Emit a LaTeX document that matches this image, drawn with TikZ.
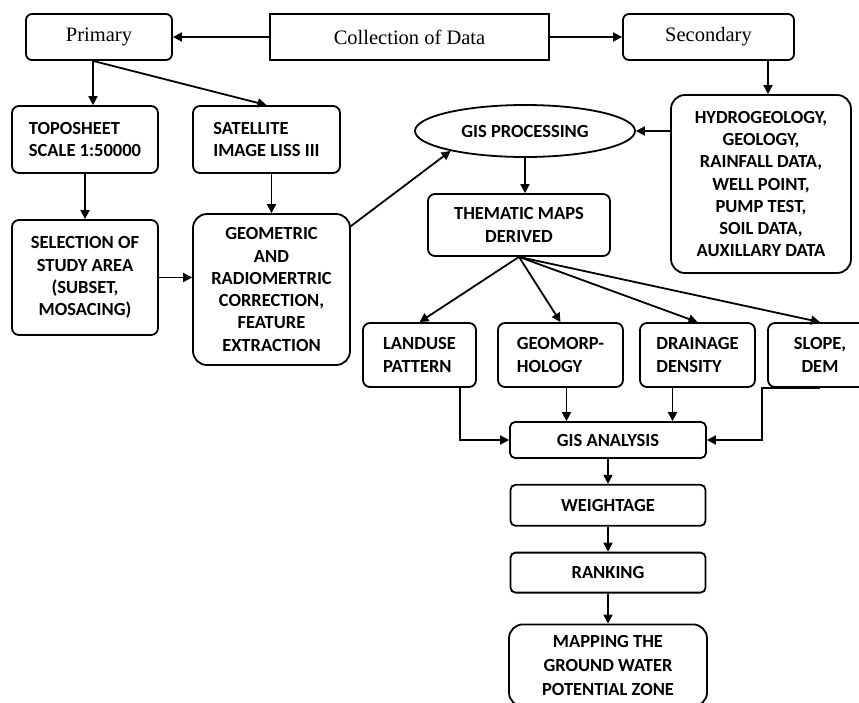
\documentclass[tikz,border=0pt]{standalone}
\usepackage{fontspec}
\setmainfont{Liberation Serif}
\newfontfamily\capsf{Carlito}
\usepackage{tikz}
\usetikzlibrary{arrows.meta, positioning, shapes.geometric}
\tikzset{
  ttl/.style  = {draw, line width=1.8pt, rounded corners=6pt, align=center,
                 font=\fontsize{20.5}{24}\selectfont, inner sep=4pt},
  rbox/.style = {draw, line width=1.8pt, rounded corners=7pt, align=center,
                 font=\capsf\bfseries\fontsize{18.5}{22.3}\selectfont, inner sep=4pt},
  bbox/.style = {rbox, rounded corners=14pt},
  oval/.style = {draw, line width=1.8pt, ellipse, align=center, inner sep=0pt,
                 font=\capsf\bfseries\fontsize{18.5}{22.3}\selectfont},
  fl/.style   = {-{Triangle[length=9pt,width=9pt]}, line width=1.8pt},
}
\begin{document}
\begin{tikzpicture}[x=1pt, y=-1pt, node distance=25pt]
  \useasboundingbox (0,0) rectangle (859,702);
  % top row
  \node[ttl, minimum width=146, minimum height=46] (prim) at (99,37) {Primary};
  \node[ttl, rounded corners=0pt, minimum width=279, minimum height=46] (coll) at (409.5,37) {Collection of Data};
  \node[ttl, minimum width=171, minimum height=46] (sec) at (708.5,37) {Secondary};
  % primary branch
  \node[rbox, align=left, minimum width=146, minimum height=67] (topo) at (85,139.5) {TOPOSHEET\\SCALE 1:50000};
  \node[rbox, align=left, minimum width=147, minimum height=67] (sat) at (266.5,139.5) {SATELLITE\\IMAGE LISS III};
  \node[rbox, minimum width=146, minimum height=115] (sel) at (85,277.5) {SELECTION OF\\STUDY AREA\\(SUBSET,\\MOSACING)};
  \node[bbox, minimum width=157, minimum height=151] (geo) at (271.5,289.5) {GEOMETRIC\\AND\\RADIOMERTRIC\\CORRECTION,\\FEATURE\\EXTRACTION};
  % processing
  \node[oval, minimum width=220, minimum height=52] (gisP) at (525,131) {GIS PROCESSING};
  \node[bbox, minimum width=180, minimum height=178] (hyd) at (761,184) {HYDROGEOLOGY,\\GEOLOGY,\\RAINFALL DATA,\\WELL POINT,\\PUMP TEST,\\SOIL DATA,\\AUXILLARY DATA};
  \node[rbox, minimum width=182, minimum height=62] (them) at (519,225) {THEMATIC MAPS\\DERIVED};
  % thematic layers
  \node[rbox, align=left, minimum width=113, minimum height=64] (land) at (419.5,355) {LANDUSE\\PATTERN};
  \node[rbox, align=left, minimum width=125, minimum height=64] (geom) at (560.5,355) {GEOMORP-\\HOLOGY};
  \node[rbox, align=left, minimum width=115, minimum height=64] (drain) at (697.5,355) {DRAINAGE\\DENSITY};
  \node[rbox, minimum width=104, minimum height=64] (slope) at (820,355) {SLOPE,\\DEM};
  % analysis column
  \node[rbox, rounded corners=5pt, minimum width=196, minimum height=36] (gisA) at (608,440) {GIS ANALYSIS};
  \node[rbox, rounded corners=5pt, minimum width=195, minimum height=41, below=of gisA] (weight) {WEIGHTAGE};
  \node[rbox, rounded corners=5pt, minimum width=195, minimum height=40, below=of weight] (rank) {RANKING};
  \node[bbox, font=\capsf\bfseries\fontsize{18.5}{24}\selectfont,
        minimum width=198, minimum height=82, below=30pt of rank] (map) {MAPPING THE\\GROUND WATER\\POTENTIAL ZONE};

  \coordinate (pb) at ([xshift=-6pt]prim.south);
  \draw[fl] (coll.west) -- (prim.east);
  \draw[fl] (coll.east) -- (sec.west);
  \draw[fl] ([xshift=7pt]hyd.north |- sec.south) -- ([xshift=7pt]hyd.north);
  \draw[fl] (pb) -- (pb |- topo.north);
  \draw[fl] (pb) -- (sat.north);
  \draw[fl] (topo) -- (sel);
  \draw[fl] (geo.north |- sat.south) -- (geo.north);
  \draw[fl] (sel.east) -- (sel.east -| geo.west);
  \draw[fl] ([yshift=-13pt]geo.north east) -- (gisP.195);
  \draw[fl] (hyd.west |- gisP.east) -- (gisP.east);
  \draw[fl] (gisP.south) -- (gisP.south |- them.north);
  \draw[fl] (them.south) -- (land.north);
  \draw[fl] (them.south) -- (geom.north);
  \draw[fl] (them.south) -- (drain.north);
  \draw[fl] (them.south) -- (slope.north);
  \draw[fl] ([xshift=-17pt]land.south east) |- (gisA.west);
  \draw[fl] ([xshift=6pt]geom.south) -- ([xshift=6pt]geom.south |- gisA.north);
  \draw[fl] ([xshift=-25pt]drain.south) -- ([xshift=-25pt]drain.south |- gisA.north);
  \draw[fl] (slope.south) -| ([xshift=-5pt]slope.south west) |- (gisA.east);
  \draw[fl] (gisA) -- (weight);
  \draw[fl] (weight) -- (rank);
  \draw[fl] (rank) -- (map);
\end{tikzpicture}
\end{document}
